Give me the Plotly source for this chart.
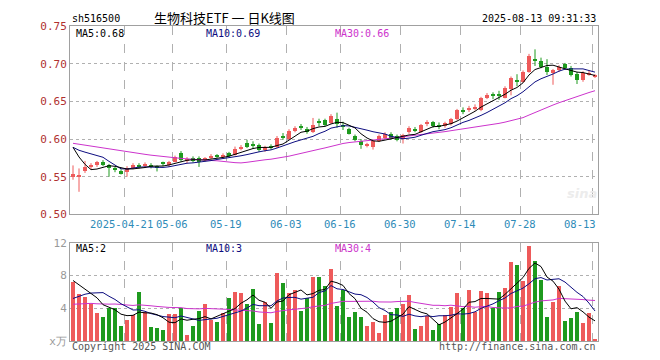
import numpy as np
import plotly.graph_objects as go

# ---------------- data ----------------
dates = (
    ["04-08", "04-09", "04-10", "04-11", "04-14", "04-15", "04-16", "04-17", "04-18", "04-21",
     "04-22", "04-23", "04-24", "04-25", "04-28", "04-29", "04-30",
     "05-06", "05-07", "05-08", "05-09", "05-12", "05-13", "05-14", "05-15", "05-16", "05-19",
     "05-20", "05-21", "05-22", "05-23", "05-26", "05-27", "05-28", "05-29", "05-30",
     "06-03", "06-04", "06-05", "06-06", "06-09", "06-10", "06-11", "06-12", "06-13", "06-16",
     "06-17", "06-18", "06-19", "06-20", "06-23", "06-24", "06-25", "06-26", "06-27", "06-30",
     "07-01", "07-02", "07-03", "07-04", "07-07", "07-08", "07-09", "07-10", "07-11", "07-14",
     "07-15", "07-16", "07-17", "07-18", "07-21", "07-22", "07-23", "07-24", "07-25", "07-28",
     "07-29", "07-30", "07-31", "08-01", "08-04", "08-05", "08-06", "08-07", "08-08", "08-11",
     "08-12", "08-13"]
)

open_ = [0.549, 0.550, 0.557, 0.564, 0.565, 0.569, 0.565, 0.560, 0.558, 0.556,
         0.561, 0.566, 0.565, 0.566, 0.563, 0.568, 0.565, 0.570, 0.581, 0.571,
         0.575, 0.575, 0.573, 0.575, 0.578, 0.576, 0.581, 0.579, 0.587, 0.595,
         0.593, 0.592, 0.585, 0.590, 0.589, 0.603, 0.600, 0.611, 0.616, 0.613,
         0.609, 0.623, 0.625, 0.621, 0.626, 0.618, 0.613, 0.604, 0.598, 0.591,
         0.589, 0.598, 0.602, 0.607, 0.604, 0.600, 0.609, 0.612, 0.610, 0.620,
         0.622, 0.618, 0.617, 0.620, 0.627, 0.638, 0.639, 0.641, 0.638, 0.655,
         0.659, 0.659, 0.655, 0.666, 0.678, 0.676, 0.689, 0.705, 0.703, 0.696,
         0.687, 0.691, 0.699, 0.694, 0.686, 0.678, 0.686, 0.683]
high = [0.565, 0.561, 0.571, 0.568, 0.571, 0.572, 0.567, 0.563, 0.560, 0.564,
        0.568, 0.568, 0.569, 0.568, 0.565, 0.570, 0.571, 0.578, 0.584, 0.576,
        0.577, 0.577, 0.576, 0.580, 0.580, 0.581, 0.583, 0.590, 0.592, 0.599,
        0.597, 0.594, 0.591, 0.593, 0.604, 0.608, 0.613, 0.617, 0.620, 0.616,
        0.628, 0.627, 0.627, 0.633, 0.635, 0.623, 0.615, 0.606, 0.600, 0.595,
        0.599, 0.606, 0.609, 0.609, 0.606, 0.607, 0.617, 0.616, 0.620, 0.625,
        0.624, 0.622, 0.623, 0.628, 0.640, 0.642, 0.644, 0.646, 0.656, 0.661,
        0.662, 0.664, 0.670, 0.683, 0.686, 0.691, 0.713, 0.719, 0.708, 0.706,
        0.693, 0.698, 0.701, 0.697, 0.689, 0.690, 0.691, 0.686]
low = [0.546, 0.530, 0.555, 0.560, 0.563, 0.564, 0.550, 0.556, 0.553, 0.550,
       0.560, 0.561, 0.562, 0.561, 0.557, 0.564, 0.563, 0.569, 0.570, 0.568,
       0.569, 0.563, 0.570, 0.573, 0.575, 0.574, 0.576, 0.578, 0.585, 0.588,
       0.587, 0.583, 0.583, 0.586, 0.588, 0.599, 0.599, 0.609, 0.612, 0.607,
       0.608, 0.617, 0.617, 0.620, 0.615, 0.612, 0.606, 0.597, 0.587, 0.589,
       0.586, 0.596, 0.600, 0.599, 0.597, 0.594, 0.607, 0.609, 0.608, 0.617,
       0.615, 0.613, 0.615, 0.618, 0.625, 0.633, 0.636, 0.638, 0.637, 0.653,
       0.653, 0.652, 0.654, 0.658, 0.670, 0.675, 0.688, 0.697, 0.694, 0.685,
       0.672, 0.689, 0.692, 0.683, 0.673, 0.676, 0.684, 0.681]
close = [0.553, 0.551, 0.563, 0.565, 0.569, 0.565, 0.561, 0.559, 0.554, 0.562,
         0.566, 0.563, 0.566, 0.563, 0.562, 0.567, 0.570, 0.576, 0.572, 0.574,
         0.571, 0.570, 0.574, 0.578, 0.577, 0.579, 0.578, 0.587, 0.590, 0.590,
         0.592, 0.585, 0.589, 0.589, 0.602, 0.602, 0.611, 0.615, 0.615, 0.609,
         0.619, 0.622, 0.619, 0.631, 0.620, 0.617, 0.607, 0.599, 0.592, 0.592,
         0.598, 0.604, 0.607, 0.601, 0.599, 0.605, 0.615, 0.611, 0.618, 0.621,
         0.617, 0.617, 0.621, 0.626, 0.638, 0.637, 0.641, 0.642, 0.654, 0.659,
         0.658, 0.658, 0.668, 0.681, 0.677, 0.689, 0.710, 0.704, 0.696, 0.689,
         0.691, 0.696, 0.694, 0.685, 0.678, 0.688, 0.688, 0.683]
volume = [7.2, 5.8, 5.4, 4.5, 3.5, 3.0, 4.0, 4.1, 1.8, 2.6,
          3.2, 6.0, 3.6, 1.7, 1.6, 1.3, 3.3, 3.3, 4.0, 0.8,
          1.9, 3.7, 4.5, 2.6, 2.4, 3.5, 5.3, 6.0, 5.9, 4.5,
          6.4, 2.1, 4.8, 2.2, 8.3, 7.1, 5.9, 6.2, 3.7, 5.3,
          7.9, 7.9, 6.7, 8.8, 4.3, 6.3, 2.9, 3.6, 2.9, 1.9,
          2.4, 1.0, 3.2, 3.6, 4.1, 4.5, 5.6, 1.5, 1.9, 3.1,
          1.3, 2.1, 3.2, 4.2, 5.9, 4.1, 6.3, 3.6, 6.1, 5.9,
          4.0, 6.0, 6.5, 9.7, 9.3, 7.3, 11.6, 9.8, 7.5, 2.9,
          4.8, 6.7, 2.5, 2.8, 3.6, 2.2, 3.5, 0.2]

# sessions before the first visible one (needed for the moving averages at the left edge)
prior_close = [0.590, 0.594, 0.598, 0.601, 0.603, 0.600, 0.597, 0.595, 0.599, 0.602,
               0.604, 0.600, 0.596, 0.593, 0.595, 0.598, 0.596, 0.593, 0.592, 0.594,
               0.590, 0.588, 0.587, 0.589, 0.591, 0.615, 0.612, 0.600, 0.565]
prior_volume = [4.5, 3.8, 4.2, 5.0, 4.4, 3.9, 3.6, 4.1, 4.8, 4.0,
                3.7, 4.3, 4.6, 3.9, 4.2, 4.0, 3.8, 4.4, 4.1, 3.5,
                3.2, 2.8, 3.1, 2.9, 3.0, 8.5, 8.0, 7.0, 6.3]

tick_dates = ["04-21", "05-06", "05-19", "06-03", "06-16", "06-30", "07-14", "07-28", "08-13"]
tick_text = ["2025-04-21", "05-06", "05-19", "06-03", "06-16", "06-30", "07-14", "07-28", "08-13"]

price_ticks = [0.50, 0.55, 0.60, 0.65, 0.70, 0.75]
vol_ticks = [0, 4, 8, 12]
vol_tick_text = ["x万", "4", "8", "12"]

# ---------------- helpers ----------------
n = len(close)
xs = list(range(n))


def ma(prior, vals, w):
    s = np.array(prior + vals, dtype=float)
    out = np.convolve(s, np.ones(w) / w, mode="valid")
    return out[-len(vals):]


c_ma5, c_ma10, c_ma30 = ma(prior_close, close, 5), ma(prior_close, close, 10), ma(prior_close, close, 30)
v_ma5, v_ma10, v_ma30 = ma(prior_volume, volume, 5), ma(prior_volume, volume, 10), ma(prior_volume, volume, 30)

UP = "#ee5a5a"
DN = "#1e9a1e"
C5, C10, C30 = "#000000", "#0d0d80", "#cc33cc"
MONO = "DejaVu Sans Mono"

up = [c >= o for o, c in zip(open_, close)]
colors = [UP if u else DN for u in up]
base = [min(o, c) for o, c in zip(open_, close)]
body = [max(abs(c - o), 0.0015) for o, c in zip(open_, close)]

fig = go.Figure()

# wicks
for flag, col in ((True, UP), (False, DN)):
    wx, wy = [], []
    for i in xs:
        if up[i] == flag:
            wx += [i, i, None]
            wy += [low[i], high[i], None]
    fig.add_trace(go.Scatter(x=wx, y=wy, mode="lines", line=dict(color=col, width=1),
                             xaxis="x", yaxis="y", hoverinfo="skip"))

# bodies
fig.add_trace(go.Bar(x=xs, y=body, base=base, width=0.8, marker=dict(color=colors, line=dict(width=0)),
                     xaxis="x", yaxis="y", hoverinfo="skip"))

for arr, col in ((c_ma30, C30), (c_ma10, C10), (c_ma5, C5)):
    fig.add_trace(go.Scatter(x=xs, y=arr, mode="lines", line=dict(color=col, width=1),
                             xaxis="x", yaxis="y", hoverinfo="skip"))

# volume
fig.add_trace(go.Bar(x=xs, y=volume, width=0.82, marker=dict(color=colors, line=dict(width=0)),
                     xaxis="x2", yaxis="y2", hoverinfo="skip"))
for arr, col in ((v_ma30, C30), (v_ma10, C10), (v_ma5, C5)):
    fig.add_trace(go.Scatter(x=xs, y=arr, mode="lines", line=dict(color=col, width=1),
                             xaxis="x2", yaxis="y2", hoverinfo="skip"))

tick_idx = [dates.index(d) for d in tick_dates]
grid_pos = [i - 0.5 for i in tick_idx]

xcommon = dict(range=[-0.5, n - 0.5], tickvals=grid_pos, showticklabels=False, ticks="",
               showgrid=True, gridcolor="#b0b0b0", griddash="dash", gridwidth=1,
               showline=True, mirror=True, linecolor="#a0a0a0", linewidth=1, zeroline=False,
               fixedrange=True)

TOP_D = [0.4019, 1.0]
BOT_D = [0.0, 0.3115]

# the page body adds an 8px offset, so margins are shifted to land the plot at x 70..598, y 20..341
fig.update_layout(
    width=660, height=360,
    margin=dict(l=62, r=70, t=12, b=27),
    paper_bgcolor="white", plot_bgcolor="white",
    showlegend=False, bargap=0,
    xaxis=dict(domain=[0, 1], anchor="y", **xcommon),
    xaxis2=dict(domain=[0, 1], anchor="y2", matches="x", **xcommon),
    yaxis=dict(domain=TOP_D, anchor="x", range=[0.50, 0.75], tickvals=price_ticks,
               ticktext=[f"{v:.2f}" for v in price_ticks],
               tickfont=dict(family=MONO, size=11, color="#b03030"),
               showgrid=True, gridcolor="#b0b0b0", griddash="dot", gridwidth=1,
               showline=True, mirror=True, linecolor="#a0a0a0", zeroline=False, ticks=""),
    yaxis2=dict(domain=BOT_D, anchor="x2", range=[0, 12], tickvals=vol_ticks, ticktext=vol_tick_text,
                tickfont=dict(family=MONO, size=11, color="#999999"),
                showgrid=True, gridcolor="#b0b0b0", griddash="dot", gridwidth=1,
                showline=True, mirror=True, linecolor="#a0a0a0", zeroline=False, ticks=""),
)

PT, PB = 20, 341


def py(pix):
    return (PB - pix) / (PB - PT)


def px(pix):
    return (pix - 70) / 528


ann = []
# header
ann.append(dict(text="sh516500", x=0, y=py(12), xanchor="left"))
ann.append(dict(text="生物科技ETF 一 日K线图", x=px(224), y=py(11), xanchor="center",
                font=dict(family="Noto Sans CJK SC", size=13, color="#000")))
ann.append(dict(text="2025-08-13 09:31:33", x=1.0, y=py(12), xanchor="right"))
# MA labels, price panel
ann.append(dict(text=f"MA5:{c_ma5[-1]:.2f}", x=px(74), y=py(28), xanchor="left", font=dict(family=MONO, size=10, color=C5)))
ann.append(dict(text=f"MA10:{c_ma10[-1]:.2f}", x=px(204), y=py(28), xanchor="left", font=dict(family=MONO, size=10, color=C10)))
ann.append(dict(text=f"MA30:{c_ma30[-1]:.2f}", x=px(333), y=py(28), xanchor="left", font=dict(family=MONO, size=10, color=C30)))
# MA labels, volume panel
ann.append(dict(text=f"MA5:{int(v_ma5[-1])}", x=px(74), y=py(247), xanchor="left", font=dict(family=MONO, size=10, color=C5)))
ann.append(dict(text=f"MA10:{int(v_ma10[-1])}", x=px(204), y=py(247), xanchor="left", font=dict(family=MONO, size=10, color=C10)))
ann.append(dict(text=f"MA30:{int(v_ma30[-1])}", x=px(333), y=py(247), xanchor="left", font=dict(family=MONO, size=10, color=C30)))
# footer
ann.append(dict(text="Copyright 2025 SINA.COM", x=0, y=py(347), xanchor="left", font=dict(family=MONO, size=10, color="#555")))
ann.append(dict(text="http://finance.sina.com.cn", x=1.0, y=py(347), xanchor="right", font=dict(family=MONO, size=10, color="#555")))
# watermark
ann.append(dict(text="<b><i>sina</i></b>", x=px(582), y=py(191), xanchor="center",
                font=dict(family="DejaVu Sans", size=13, color="#ececec")))

for a in ann:
    a.setdefault("font", dict(family=MONO, size=10, color="#000"))
    a.update(xref="paper", yref="paper", showarrow=False, yanchor="middle")
    fig.add_annotation(**a)

# date tick labels
for k, (g, t) in enumerate(zip(grid_pos, tick_text)):
    last = k == len(grid_pos) - 1
    fig.add_annotation(text=t, x=(n - 0.5) if last else g, xref="x", y=py(222), yref="paper",
                       xanchor="right" if last else "center", yanchor="middle", showarrow=False,
                       xshift=-3 if k == 0 else 0,
                       font=dict(family=MONO, size=10.5, color="#2e8bb8"))

fig.write_html("out.html")
